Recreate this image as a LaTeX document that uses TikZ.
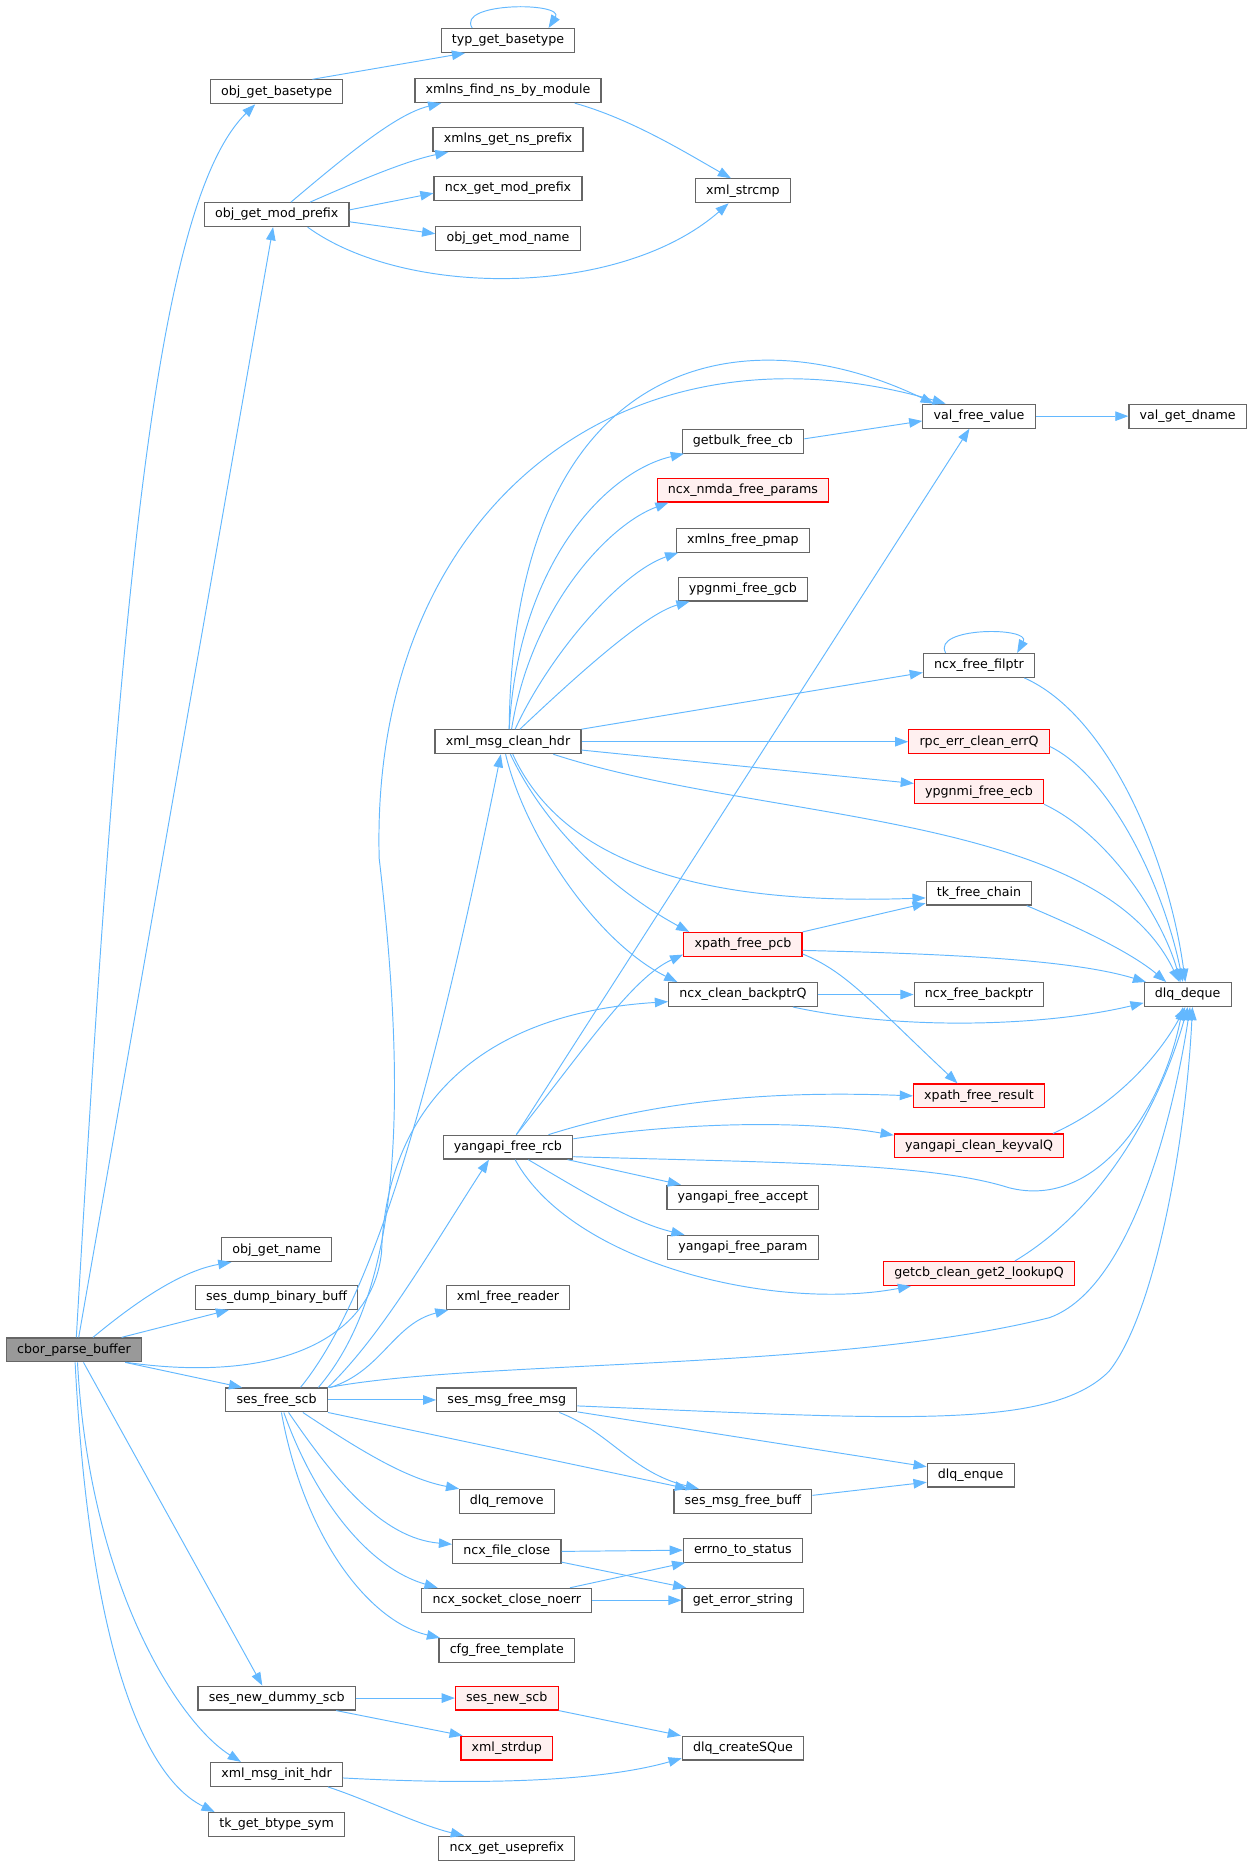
\documentclass[tikz,border=0pt]{standalone}
\usepackage{fontspec}
\setmainfont{DejaVu Sans}
\usetikzlibrary{arrows.meta}
\definecolor{edgeblue}{HTML}{63B8FF}
\definecolor{boxgray}{HTML}{666666}
\definecolor{hotred}{HTML}{FF0000}
\definecolor{hotfill}{HTML}{FFF0F0}
\definecolor{rootfill}{HTML}{999999}
\begin{document}
\begin{tikzpicture}[x=1pt, y=-1pt,
    fn/.style = {draw=boxgray, line width=1pt, fill=white, minimum height=20pt,
                 inner xsep=9pt, inner ysep=0pt, font=\fontsize{10.6}{12}\selectfont},
    hot/.style = {fn, draw=hotred, fill=hotfill},
    rootfn/.style = {fn, fill=rootfill},
    call/.style = {draw=edgeblue, line width=0.8pt, -{Triangle[length=11pt,width=8pt]}}]
    \useasboundingbox (0,0) rectangle (1050,1564);

    \node[rootfn] (cbor) at (62,1132) {cbor\_parse\_buffer};
    \node[fn] (objbase) at (232,77) {obj\_get\_basetype};
    \node[fn] (typbase) at (426,34) {typ\_get\_basetype};
    \node[fn] (nsfind) at (426,76) {xmlns\_find\_ns\_by\_module};
    \node[fn] (nsprefix) at (426,117) {xmlns\_get\_ns\_prefix};
    \node[fn] (ncxmod) at (426,158) {ncx\_get\_mod\_prefix};
    \node[fn] (modprefix) at (232,180) {obj\_get\_mod\_prefix};
    \node[fn] (modname) at (426,200) {obj\_get\_mod\_name};
    \node[fn] (strcmp) at (623,160) {xml\_strcmp};
    \node[fn] (valfree) at (821,349) {val\_free\_value};
    \node[fn] (dname) at (996,349) {val\_get\_dname};
    \node[fn] (getbulk) at (623,370) {getbulk\_free\_cb};
    \node[hot] (nmda) at (623,411) {ncx\_nmda\_free\_params};
    \node[fn] (pmap) at (623,453) {xmlns\_free\_pmap};
    \node[fn] (gcb) at (623,494) {ypgnmi\_free\_gcb};
    \node[fn] (filptr) at (821,558) {ncx\_free\_filptr};
    \node[fn] (cleanhdr) at (426,622) {xml\_msg\_clean\_hdr};
    \node[hot] (errq) at (821,622) {rpc\_err\_clean\_errQ};
    \node[hot] (ecb) at (821,664) {ypgnmi\_free\_ecb};
    \node[fn] (chain) at (821,749) {tk\_free\_chain};
    \node[hot] (pcb) at (623,792) {xpath\_free\_pcb};
    \node[fn] (backq) at (623,834) {ncx\_clean\_backptrQ};
    \node[fn] (backptr) at (821,834) {ncx\_free\_backptr};
    \node[fn] (deque) at (996,834) {dlq\_deque};
    \node[hot] (result) at (821,919) {xpath\_free\_result};
    \node[fn] (rcb) at (426,962) {yangapi\_free\_rcb};
    \node[hot] (keyval) at (821,961) {yangapi\_clean\_keyvalQ};
    \node[fn] (accept) at (623,1004) {yangapi\_free\_accept};
    \node[fn] (param) at (623,1046) {yangapi\_free\_param};
    \node[hot] (lookup) at (821,1068) {getcb\_clean\_get2\_lookupQ};
    \node[fn] (objname) at (232,1048) {obj\_get\_name};
    \node[fn] (dump) at (232,1088) {ses\_dump\_binary\_buff};
    \node[fn] (reader) at (426,1088) {xml\_free\_reader};
    \node[fn] (scb) at (232,1174) {ses\_free\_scb};
    \node[fn] (msg) at (425,1174) {ses\_msg\_free\_msg};
    \node[fn] (remove) at (425,1259) {dlq\_remove};
    \node[fn] (buff) at (623,1259) {ses\_msg\_free\_buff};
    \node[fn] (enque) at (814,1237) {dlq\_enque};
    \node[fn] (fclose) at (425,1301) {ncx\_file\_close};
    \node[fn] (errno) at (623,1300) {errno\_to\_status};
    \node[fn] (sock) at (425,1342) {ncx\_socket\_close\_noerr};
    \node[fn] (errstr) at (623,1342) {get\_error\_string};
    \node[fn] (tmpl) at (425,1384) {cfg\_free\_template};
    \node[fn] (dummy) at (232,1424) {ses\_new\_dummy\_scb};
    \node[hot] (newscb) at (425,1424) {ses\_new\_scb};
    \node[hot] (strdup) at (425,1466) {xml\_strdup};
    \node[fn] (createq) at (623,1466) {dlq\_createSQue};
    \node[fn] (inithdr) at (232,1488) {xml\_msg\_init\_hdr};
    \node[fn] (btype) at (232,1530) {tk\_get\_btype\_sym};
    \node[fn] (useprefix) at (425,1550) {ncx\_get\_useprefix};

    \draw[call] ([xshift=2]cbor.north) .. controls (100,500) and (130,170) .. ([xshift=-18]objbase.south);
    \draw[call] ([xshift=4]cbor.north) -- ([xshift=-3]modprefix.south);
    \draw[call] ([xshift=16]cbor.north) .. controls (110,1095) and (150,1066) .. ([xshift=-38]objname.south);
    \draw[call] ([xshift=40]cbor.north) -- ([xshift=-40]dump.south);
    \draw[call] ([xshift=44]cbor.south) .. controls (230,1160) and (312,1125) .. (320,1050)
        .. controls (324,930) and (400,850) .. ([yshift=-6]backq.west);
    \draw[call] ([xshift=43]cbor.south) -- ([xshift=-29]scb.north);
    \draw[call] ([xshift=8]cbor.south) -- ([xshift=-12]dummy.north);
    \draw[call] ([xshift=3]cbor.south) .. controls (75,1330) and (150,1445) .. ([xshift=-30]inithdr.north);
    \draw[call] ([xshift=1]cbor.south) .. controls (75,1380) and (120,1490) .. ([xshift=-52]btype.north);

    \draw[call] ([xshift=30]objbase.north) -- ([xshift=-36]typbase.south);
    \draw[call] ([xshift=-30]typbase.north) .. controls +(-14,-22) and +(14,-22) .. ([xshift=34]typbase.north);
    \draw[call] ([xshift=12]modprefix.north) .. controls (300,122) and (335,95) .. ([xshift=-56]nsfind.south);
    \draw[call] ([xshift=28]modprefix.north) .. controls (300,152) and (340,135) .. ([xshift=-50]nsprefix.south);
    \draw[call] ([yshift=4]modprefix.east) -- ([yshift=-4]ncxmod.west);
    \draw[call] ([yshift=-6]modprefix.east) -- ([yshift=4]modname.west);
    \draw[call] ([xshift=26]modprefix.south) .. controls (340,250) and (520,250) .. ([xshift=-12]strcmp.south);
    \draw[call] ([xshift=56]nsfind.south) .. controls (530,100) and (575,128) .. ([xshift=-10]strcmp.north);

    \draw[call] (valfree.east) -- (dname.west);
    \draw[call] ([yshift=2]getbulk.east) -- ([yshift=-4]valfree.west);
    \draw[call] ([xshift=1]cleanhdr.north) .. controls (430,300) and (620,260) .. ([xshift=-38]valfree.north);
    \draw[call] ([xshift=1]cleanhdr.north) .. controls (435,470) and (510,395) .. ([xshift=2]getbulk.south west);
    \draw[call] ([xshift=3]cleanhdr.north) .. controls (445,510) and (510,440) .. ([xshift=10]nmda.south west);
    \draw[call] ([xshift=6]cleanhdr.north) .. controls (460,550) and (520,480) .. ([xshift=2]pmap.south west);
    \draw[call] ([xshift=10]cleanhdr.north) .. controls (480,570) and (540,515) .. ([xshift=10]gcb.south west);
    \draw[call] (cleanhdr.north east) -- ([yshift=-6]filptr.west);
    \draw[call] (cleanhdr.east) -- (errq.west);
    \draw[call] ([yshift=-7]cleanhdr.east) -- ([yshift=7]ecb.west);
    \draw[call] ([xshift=38]cleanhdr.south) .. controls (640,690) and (920,680) .. ([xshift=-7]deque.north);
    \draw[call] ([xshift=4]cleanhdr.south) .. controls (470,720) and (580,760) .. ([yshift=-4]chain.west);
    \draw[call] ([xshift=2]cleanhdr.south) .. controls (460,700) and (520,750) .. ([xshift=-45]pcb.north);
    \draw[call] ([xshift=-2]cleanhdr.south) .. controls (440,700) and (500,790) .. ([xshift=-55]backq.north);

    \draw[call] ([xshift=-28]filptr.north) .. controls +(-12,-22) and +(12,-22) .. ([xshift=32]filptr.north);
    \draw[call] ([xshift=38]filptr.south) .. controls (930,600) and (980,720) .. ([xshift=-2]deque.north);
    \draw[call] ([yshift=-4]errq.east) .. controls (930,650) and (975,740) .. ([xshift=-4]deque.north);
    \draw[call] (ecb.south east) .. controls (930,700) and (975,770) .. ([xshift=-6]deque.north);
    \draw[call] ([xshift=40]chain.south) .. controls (910,780) and (950,800) .. ([xshift=-18]deque.north);
    \draw[call] (pcb.north east) -- ([yshift=2]chain.south west);
    \draw[call] ([yshift=-5]pcb.east) .. controls (800,800) and (900,805) .. ([xshift=2]deque.north west);
    \draw[call] ([yshift=-8]pcb.east) .. controls (710,815) and (730,840) .. ([xshift=-18]result.north);
    \draw[call] (backq.east) -- (backptr.west);
    \draw[call] ([xshift=42]backq.south) .. controls (760,865) and (880,860) .. ([yshift=-7]deque.west);

    \draw[call] ([xshift=7]rcb.north) -- ([xshift=-8]valfree.south);
    \draw[call] ([xshift=7]rcb.north) .. controls (490,880) and (530,820) .. ([yshift=2]pcb.south west);
    \draw[call] ([xshift=34]rcb.north) .. controls (560,920) and (660,915) .. (result.west);
    \draw[call] ([yshift=7]rcb.east) .. controls (580,940) and (680,940) .. ([yshift=9]keyval.west);
    \draw[call] ([yshift=-8]rcb.east) .. controls (650,975) and (780,975) .. (846,996)
        .. controls (920,1015) and (975,930) .. ([xshift=-4]deque.south);
    \draw[call] ([xshift=50]rcb.south) -- ([xshift=-52]accept.north);
    \draw[call] ([xshift=17]rcb.south) .. controls (490,1000) and (530,1025) .. ([xshift=-49]param.north);
    \draw[call] ([xshift=6]rcb.south) .. controls (480,1060) and (650,1100) .. ([xshift=-57]lookup.south);
    \draw[call] ([xshift=62]keyval.north) .. controls (940,925) and (975,880) .. ([xshift=-2]deque.south);
    \draw[call] ([xshift=30]lookup.north) .. controls (930,1010) and (975,920) .. (deque.south);

    \draw[call] ([xshift=20]scb.north) .. controls (320,1080) and (370,880) .. ([xshift=-6]cleanhdr.south);
    \draw[call] ([xshift=35]scb.north) .. controls (330,1090) and (345,950) .. (318,720)
        .. controls (310,430) and (520,260) .. ([xshift=-28]valfree.north);
    \draw[call] ([xshift=43]scb.north) .. controls (320,1120) and (360,1050) .. ([xshift=-16]rcb.south);
    \draw[call] ([xshift=45]scb.north) .. controls (320,1150) and (330,1110) .. ([xshift=-50]reader.south);
    \draw[call] ([xshift=44]scb.north) .. controls (400,1140) and (700,1150) .. (880,1105)
        .. controls (950,1080) and (985,930) .. ([xshift=2]deque.south);
    \draw[call] (scb.east) -- (msg.west);
    \draw[call] (scb.south east) -- ([xshift=-46]buff.north);
    \draw[call] ([xshift=22]scb.south) .. controls (300,1215) and (340,1240) .. ([xshift=-40]remove.north);
    \draw[call] ([xshift=10]scb.south) .. controls (280,1240) and (320,1290) .. ([yshift=6]fclose.west);
    \draw[call] ([xshift=6]scb.south) .. controls (265,1260) and (310,1315) .. ([xshift=-58]sock.north);
    \draw[call] ([xshift=4]scb.south) .. controls (255,1290) and (310,1360) .. ([xshift=-56]tmpl.north);

    \draw[call] ([yshift=-5]msg.east) .. controls (750,1190) and (880,1200) .. (930,1150)
        .. controls (970,1100) and (995,950) .. ([xshift=4]deque.south);
    \draw[call] ([yshift=-10]msg.east) -- ([yshift=7]enque.west);
    \draw[call] ([xshift=44]msg.south) .. controls (510,1200) and (530,1235) .. ([xshift=-37]buff.north);
    \draw[call] ([yshift=5]buff.east) -- ([yshift=-6]enque.west);
    \draw[call] (fclose.east) -- (errno.west);
    \draw[call] ([yshift=-9]fclose.east) -- ([xshift=4]errstr.north west);
    \draw[call] ([xshift=53]sock.north) -- ([xshift=2]errno.south west);
    \draw[call] (sock.east) -- (errstr.west);

    \draw[call] (dummy.east) -- (newscb.west);
    \draw[call] ([xshift=50]dummy.south) -- ([xshift=-37]strdup.north);
    \draw[call] (newscb.south east) -- ([xshift=-52]createq.north);
    \draw[call] ([yshift=-3]inithdr.east) .. controls (420,1498) and (510,1492) .. ([yshift=2]createq.south west);
    \draw[call] ([xshift=43]inithdr.south) .. controls (310,1510) and (350,1530) .. ([xshift=-36]useprefix.north);
\end{tikzpicture}
\end{document}
